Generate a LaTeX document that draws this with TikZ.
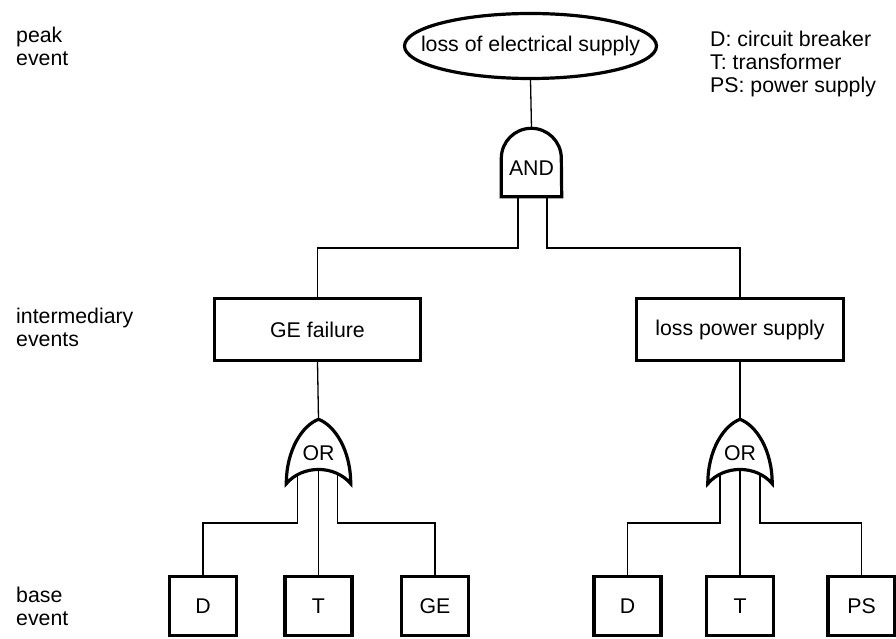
\documentclass[tikz,border=0pt]{standalone}
\usepackage{fontspec}
\setmainfont{Liberation Sans}
\usetikzlibrary{shapes.geometric}
\begin{document}
\begin{tikzpicture}[x=1pt,y=-1pt,
  every node/.style={font=\fontsize{21.3}{23}\selectfont, inner sep=0pt},
  shape line/.style={line width=3.2pt},
  conn/.style={line width=1.3pt},
  eventbox/.style={draw, shape line, rectangle, minimum height=62pt, fill=white},
  basebox/.style={draw, shape line, rectangle, minimum width=67pt, minimum height=59pt, fill=white},
  peakevent/.style={draw, shape line, ellipse, minimum width=252pt, minimum height=65pt, fill=white},
  andgate/.style={minimum width=60pt, minimum height=68pt},
  orgate/.style={minimum width=64pt, minimum height=64pt},
  gateshape/.style={shape line, fill=white, line join=miter},
  caption/.style={align=left, anchor=north west}
]
\useasboundingbox (0,0) rectangle (896,639);

% top event and gates
\node[peakevent] (peak) at (530.5,46) {\makebox[0pt]{loss of electrical supply}};
\node[andgate] (andg) at (531.5,162.5) {};

% intermediary events
\node[eventbox, minimum width=206pt] (ge) at (317.5,329.5) {GE failure};
\node[eventbox, minimum width=207pt] (lps) at (740,329.5) {loss power supply};
\node[orgate] (or1) at (318.5,451.5) {};
\node[orgate] (or2) at (740,451.5) {};

% base events
\node[basebox] (d1) at (203,606) {D};
\node[basebox] (t1) at (318.5,606) {T};
\node[basebox] (ge1) at (435,606) {GE};
\node[basebox] (d2) at (627.5,606) {D};
\node[basebox] (t2) at (740,606) {T};
\node[basebox] (ps) at (861.5,606) {PS};

% connectors
\draw[conn] (peak.south) -- (andg.north);
\draw[conn] ([xshift=-13.5pt]andg.center) -- ++(0,85.5) -| (ge.north);
\draw[conn] ([xshift=15.5pt]andg.center) -- ++(0,85.5) -| (lps.north);
\draw[conn] (ge.south) -- (or1.north);
\draw[conn] (lps.south) -- (or2.north);
\draw[conn] ([xshift=-21pt]or1.center) -- ++(0,71.5) -| (d1.north);
\draw[conn] (or1.center) -- (t1.north);
\draw[conn] ([xshift=19pt]or1.center) -- ++(0,71.5) -| (ge1.north);
\draw[conn] ([xshift=-20pt]or2.center) -- ++(0,71.5) -| (d2.north);
\draw[conn] (or2.center) -- (t2.north);
\draw[conn] ([xshift=20pt]or2.center) -- ++(0,71.5) -| (ps.north);

% AND gate outline
\draw[gateshape] (andg.south west) -- ([yshift=-30pt]andg.north west)
  arc[start angle=180, end angle=0, radius=30pt] -- (andg.south east) -- cycle;

% OR gate outlines
\foreach \g in {or1,or2}{
  \draw[gateshape] (\g.south west)
    .. controls ([yshift=34pt]\g.south west) and ([xshift=-16pt,yshift=-6pt]\g.north) .. (\g.north)
    .. controls ([xshift=16pt,yshift=-6pt]\g.north) and ([yshift=34pt]\g.south east) .. (\g.south east)
    .. controls ([xshift=-16pt,yshift=19pt]\g.south east) and ([xshift=16pt,yshift=19pt]\g.south west) .. (\g.south west)
    -- cycle;
}

% gate labels
\node[anchor=base] (andtxt) at ([yshift=-13pt]andg.center) {AND};
\node[anchor=base] (or1txt) at ([yshift=-8.5pt]or1.center) {OR};
\node[anchor=base] (or2txt) at ([yshift=-8.5pt]or2.center) {OR};

% level captions and legend
\node[caption] (lpeak) at (16,26.5) {peak\\event};
\node[caption] (linter) at (16,307.5) {intermediary\\events};
\node[caption] (lbase) at (16,586.5) {base\\event};
\node[caption] (legend) at (710,31) {D: circuit breaker\\T: transformer\\PS: power supply};
\end{tikzpicture}
\end{document}
